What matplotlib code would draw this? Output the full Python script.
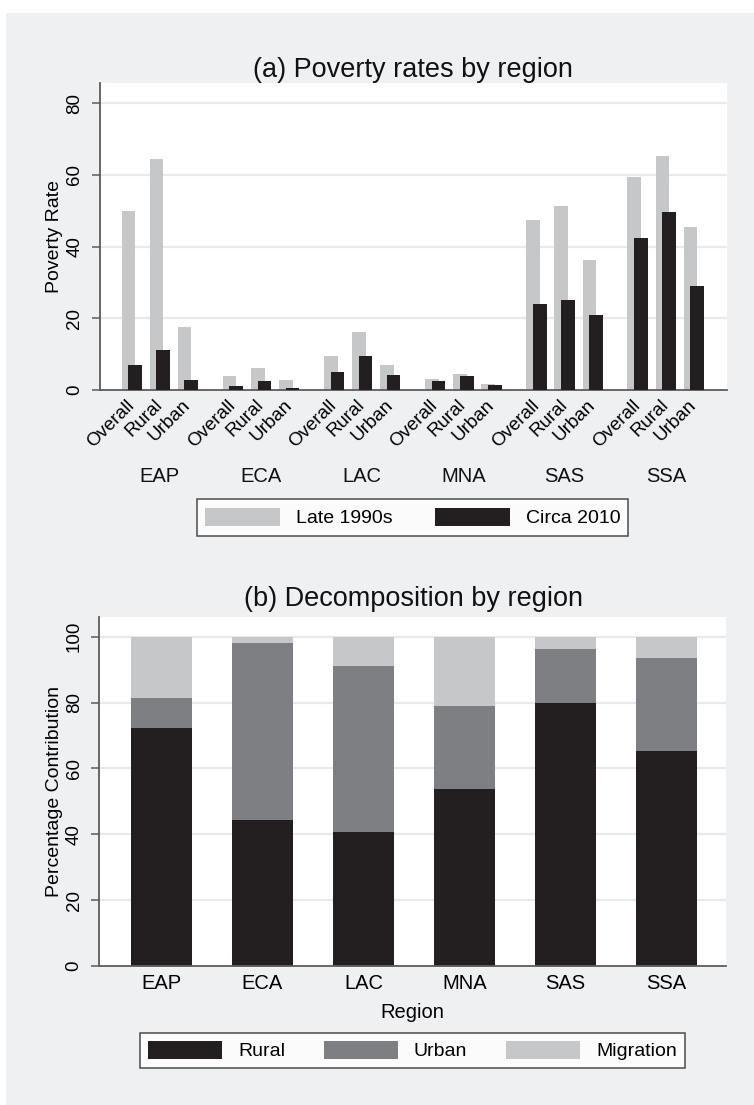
import matplotlib.pyplot as plt
import numpy as np
from matplotlib.patches import Rectangle

plt.rcParams["font.family"] = ["Liberation Sans", "DejaVu Sans"]

regions = ["EAP", "ECA", "LAC", "MNA", "SAS", "SSA"]
areas = ["Overall", "Rural", "Urban"]

# poverty rate per region, ordered Overall / Rural / Urban
late_1990s = [
    [49.8, 64.3, 17.7],
    [3.9, 6.1, 2.8],
    [9.6, 16.2, 7.0],
    [3.0, 4.5, 1.6],
    [47.4, 51.3, 36.3],
    [59.4, 65.2, 45.5],
]
circa_2010 = [
    [7.0, 11.2, 2.8],
    [1.1, 2.4, 0.6],
    [5.1, 9.4, 4.1],
    [2.4, 3.8, 1.3],
    [23.9, 25.2, 20.9],
    [42.4, 49.5, 29.1],
]

# percentage contribution to poverty reduction
rural_share = [72.2, 44.3, 40.8, 53.9, 79.8, 65.2]
urban_share = [9.2, 53.8, 50.3, 25.0, 16.5, 28.4]
migration_share = [18.6, 1.9, 8.9, 21.1, 3.7, 6.4]

BG = "#eff0f2"
LIGHT = "#c6c7c9"
MID = "#7e7f83"
DARK = "#231f20"
GRID = "#e8e9ea"
AXIS = "#5c5c5c"

W, H = 754, 1105
fig = plt.figure(figsize=(W / 100, H / 100), dpi=100)
fig.patch.set_facecolor("white")
fig.patches.append(Rectangle((6 / W, 0), 1, 1 - 13 / H, transform=fig.transFigure,
                             facecolor=BG, edgecolor="none", zorder=-10))


def style_axes(ax, ymax, yticks, ylabel, label_x):
    ax.set_facecolor("white")
    ax.set_ylim(0, ymax)
    ax.set_yticks(yticks)
    for y in yticks[1:]:
        ax.axhline(y, color=GRID, lw=1.6, zorder=0)
    for s in ("top", "right"):
        ax.spines[s].set_visible(False)
    for s in ("left", "bottom"):
        ax.spines[s].set_color(AXIS)
        ax.spines[s].set_linewidth(1.3)
    ax.tick_params(axis="y", length=6, width=1.1, color=AXIS, pad=6,
                   labelsize=13.5, labelrotation=90)
    for lab in ax.get_yticklabels():
        lab.set_va("center")
    ax.tick_params(axis="x", length=0)
    lab = ax.set_ylabel(ylabel, fontsize=14, va="center")
    ax.yaxis.set_label_coords(label_x, 0.5)


# (a) poverty rates
ax1 = fig.add_axes([100 / W, 1 - 390 / H, 627 / W, 307 / H])
step = 3.6
pos = np.array([[r * step + c for c in range(3)] for r in range(len(regions))])
bw = 0.487
off = 0.118
ax1.bar(pos.ravel() - off, np.ravel(late_1990s), bw, color=LIGHT, zorder=2,
        label="Late 1990s")
ax1.bar(pos.ravel() + off, np.ravel(circa_2010), bw, color=DARK, zorder=3,
        label="Circa 2010")
ax1.set_xlim(-1.13, pos[-1, -1] + 1.18)
style_axes(ax1, 85.6, [0, 20, 40, 60, 80], "Poverty Rate", -0.0718)
ax1.set_xticks(pos.ravel(), areas * len(regions), rotation=45, ha="right",
               va="center", rotation_mode="anchor", fontsize=13.5)
ax1.tick_params(axis="x", pad=9)
for r, name in enumerate(regions):
    ax1.text(pos[r, 1], -0.283, name, transform=ax1.get_xaxis_transform(),
             ha="center", va="center", fontsize=14.5, color="#111111")
fig.text(413 / W, 1 - 70 / H, "(a) Poverty rates by region", ha="center",
         va="center", fontsize=19.5, color="#111111")
leg1 = fig.legend(loc="center", bbox_to_anchor=(412.5 / W, 1 - 517.5 / H),
                  ncol=2, fontsize=14, handlelength=3.86, handleheight=1.08,
                  handletextpad=0.82, columnspacing=2.16, borderpad=0.42,
                  fancybox=False, frameon=True, edgecolor="#222222")
leg1.get_frame().set_linewidth(1.1)

# (b) decomposition
ax2 = fig.add_axes([99.4 / W, 1 - 966 / H, 626.6 / W, 349.3 / H])
x = np.arange(len(regions))
rural = np.array(rural_share)
urban = np.array(urban_share)
migr = np.array(migration_share)
ax2.bar(x, rural, 0.6, color=DARK, zorder=2, label="Rural")
ax2.bar(x, urban, 0.6, bottom=rural, color=MID, zorder=2, label="Urban")
ax2.bar(x, migr, 0.6, bottom=rural + urban, color=LIGHT, zorder=2,
        label="Migration")
ax2.set_xlim(-0.615, 5.59)
style_axes(ax2, 106.1, [0, 20, 40, 60, 80, 100], "Percentage Contribution",
           -0.0709)
ax2.set_xticks(x, regions, fontsize=14.5)
ax2.tick_params(axis="x", pad=6)
ax2.set_xlabel("Region", fontsize=14.5, labelpad=7)
fig.text(413 / W, 1 - 599 / H, "(b) Decomposition by region", ha="center",
         va="center", fontsize=19.5, color="#111111")
leg2 = fig.legend(*ax2.get_legend_handles_labels(), loc="center",
                  bbox_to_anchor=(412.5 / W, 1 - 1050.5 / H), ncol=3,
                  fontsize=14, handlelength=3.8, handleheight=1.03,
                  handletextpad=0.82, columnspacing=2.0, borderpad=0.42,
                  fancybox=False, frameon=True, edgecolor="#222222")
leg2.get_frame().set_linewidth(1.1)

fig.savefig("out.png", dpi=100, facecolor=fig.get_facecolor())
